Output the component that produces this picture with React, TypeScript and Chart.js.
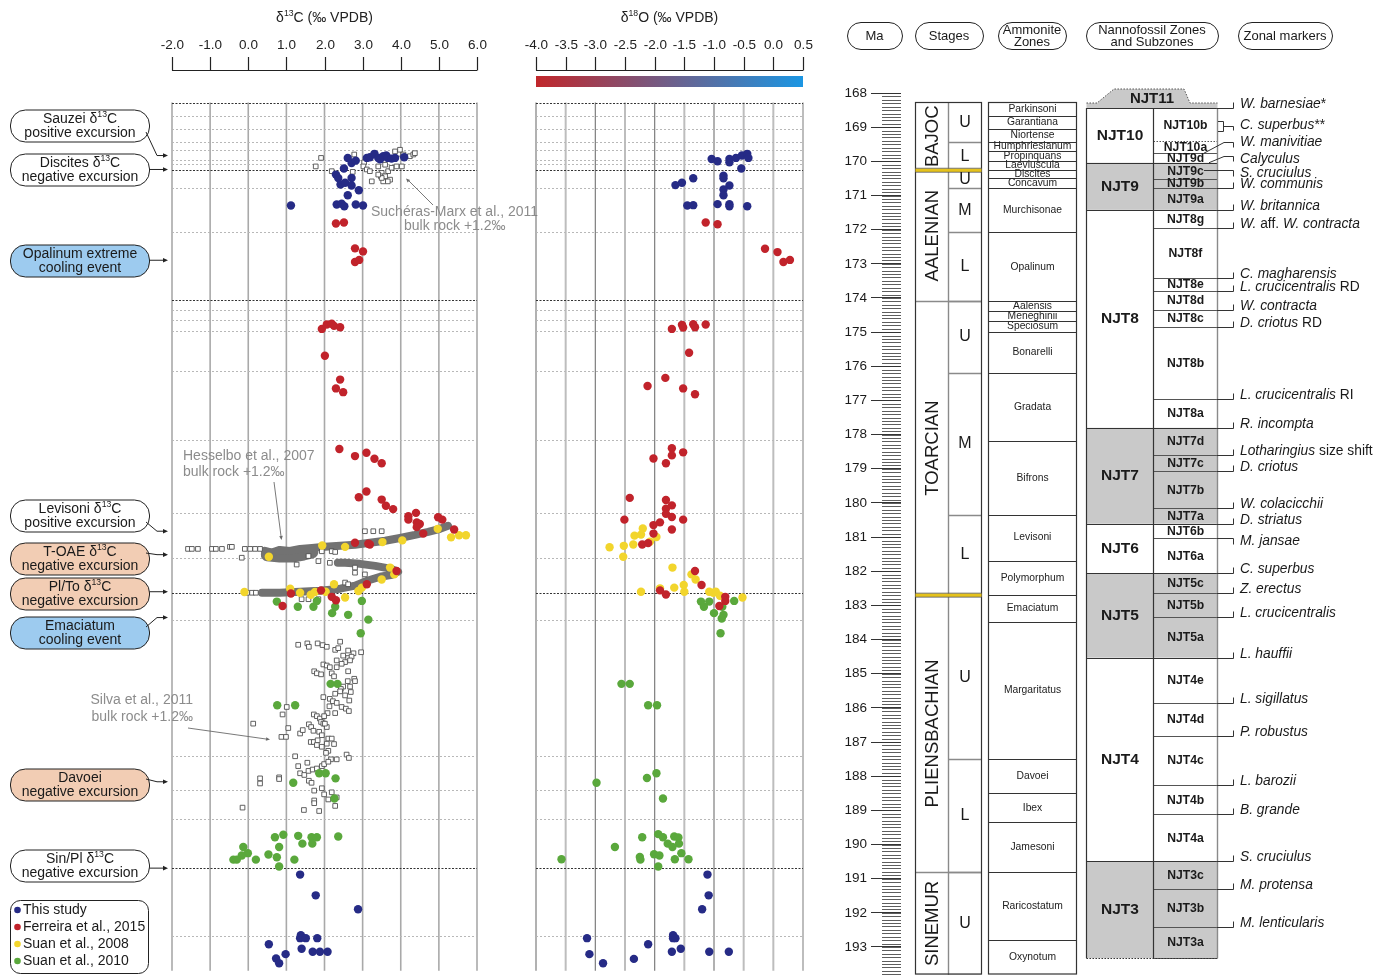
import React, { useEffect, useRef } from 'react';
import { Chart, registerables } from 'chart.js';

Chart.register(...registerables);

const FONT = '"Liberation Sans", Arial, Helvetica, sans-serif';

type Pt = [number, number];

// ---------- axes / domain ----------
const MA_PANEL_TOP = 168.28;
const MA_TABLE_TOP = 167.75;
const MA_BOTTOM = 193.82;
const D13C_TICKS = [-2, -1, 0, 1, 2, 3, 4, 5, 6];
const D18O_TICKS = [-4, -3.5, -3, -2.5, -2, -1.5, -1, -0.5, 0, 0.5];
const PANEL_MAJOR_LINES = [168.28, 170.26, 174.09, 182.7, 190.8];
const PANEL_MINOR_LINES = [168.67, 169.05, 169.43, 169.69, 169.98, 170.08, 170.79, 172.09, 174.38, 174.67, 174.99, 176.19, 178.21, 180.35, 181.69, 183.49, 187.5, 188.5, 189.35, 192.8];

// ---------- δ13C data ----------
const c13ThisStudy: Pt[] = [
  [2.61, 169.91], [2.71, 170.06], [2.82, 169.99], [3.11, 169.91], [3.19, 169.89], [3.31, 169.79], [3.41, 169.91], [3.46, 169.95], [3.54, 169.86], [3.62, 169.84], [3.66, 169.91], [3.76, 169.93], [3.85, 169.91], [4.09, 169.89],
  [2.51, 170.22], [2.3, 170.4], [2.36, 170.5], [2.71, 170.5], [2.42, 170.69], [2.54, 170.64], [2.71, 170.72], [2.9, 170.86], [2.61, 171.01],
  [1.12, 171.31], [2.32, 171.28], [2.45, 171.26], [2.52, 171.33], [2.82, 171.28], [3.01, 171.31],
  [1.36, 190.99], [1.77, 191.6], [2.88, 192.01], [1.38, 192.77], [1.36, 192.86], [1.51, 192.86], [1.81, 192.86], [0.54, 193.04], [1.4, 193.17], [1.69, 193.26], [1.88, 193.26], [2.08, 193.26], [0.98, 193.33], [0.73, 193.46], [0.81, 193.6],
];
const c13Ferreira: Pt[] = [
  [2.3, 171.84], [2.51, 171.81], [2.8, 172.57], [3.01, 172.66], [2.8, 172.97], [2.91, 172.91],
  [1.93, 174.94], [2.06, 174.81], [2.19, 174.79], [2.25, 174.85], [2.41, 174.89],
  [2.01, 175.73], [2.41, 176.43], [2.3, 176.69], [2.49, 176.8],
  [2.39, 178.47], [2.8, 178.68], [3.1, 178.58], [3.31, 178.76], [3.5, 178.89],
  [3.1, 179.72], [2.9, 179.89], [3.5, 179.96], [3.61, 180.14], [3.8, 180.24],
  [4.4, 180.35], [4.2, 180.45], [4.2, 180.55], [4.42, 180.63], [4.5, 180.68], [4.42, 180.77], [4.98, 180.48], [5.09, 180.55], [5.4, 180.84], [4.59, 180.96],
  [2.8, 181.23], [3.19, 181.28], [3.15, 181.26],
  [3.89, 182.06], [3.11, 182.45], [1.91, 182.63], [1.12, 182.72], [2.19, 182.82], [2.3, 182.92], [0.9, 183.09],
];
const c13Suan2008: Pt[] = [
  [4.97, 180.82], [5.32, 181.07], [5.53, 181.01], [5.71, 181.01], [4.04, 181.16], [3.52, 181.21], [2.54, 181.35], [1.94, 181.31], [0.54, 181.64],
  [3.72, 181.96], [3.83, 182.16], [3.5, 182.31], [2.25, 182.45], [2.89, 182.65], [2.98, 182.55], [1.1, 182.58], [1.36, 182.7], [1.64, 182.76], [1.75, 182.68], [2.03, 182.67], [2.54, 182.84], [-0.1, 182.68],
];
const c13Suan2010: Pt[] = [
  [0.75, 182.96], [1.3, 183.11], [1.71, 183.11], [1.8, 182.94], [2.28, 183.11], [2.2, 183.3], [2.62, 183.35], [2.98, 182.94], [3.15, 183.49], [2.95, 183.89],
  [2.16, 185.38], [2.34, 185.38], [0.76, 186.01], [1.23, 186.01],
  [1.86, 188.01], [2.03, 188.01], [2.29, 188.16], [1.18, 188.29], [2.26, 188.75],
  [0.7, 189.89], [0.92, 189.82], [1.31, 189.85], [1.66, 189.89], [1.8, 189.89], [2.36, 189.87], [1.42, 190.08], [1.68, 190.08],
  [-0.13, 190.18], [0.81, 190.18], [-0.01, 190.36], [-0.17, 190.43], [0.53, 190.4], [-0.39, 190.55], [-0.3, 190.55], [0.2, 190.55], [0.75, 190.48], [1.21, 190.55], [0.81, 190.75],
];
const c13SucherasMarx: Pt[] = [
  [1.91, 169.91], [1.77, 170.16], [2.19, 170.3], [2.78, 169.81], [2.74, 170.32], [3.04, 170.04], [3.02, 170.16], [3.11, 170.25], [3.24, 170.6], [3.19, 170.3], [3.41, 170.16], [3.5, 170.35], [3.59, 170.11], [3.67, 170.3], [3.72, 170.55], [3.66, 170.6], [3.54, 170.6], [3.48, 170.45], [3.59, 170.45], [3.76, 170.2], [3.89, 170.16], [4.03, 170.16], [3.94, 169.79], [3.98, 169.67], [3.85, 169.72], [4.24, 169.86], [4.33, 169.81], [4.37, 169.77], [4.07, 169.81], [3.83, 169.91], [3.5, 170.5], [3.41, 170.4],
];
const c13Silva: Pt[] = [
  [1.31, 184.23], [1.55, 184.19], [1.59, 184.29], [1.82, 184.19], [1.95, 184.24], [2.06, 184.29], [2.28, 184.38], [2.41, 184.14], [2.36, 184.33], [2.62, 184.4], [2.76, 184.48], [2.96, 184.45], [2.49, 184.55], [2.62, 184.62], [2.71, 184.58], [2.32, 184.69], [2.54, 184.74], [2.67, 184.69], [1.97, 184.81], [2.06, 184.84], [2.14, 184.89], [2.32, 184.89], [2.45, 184.79],
  [1.73, 185.01], [1.8, 185.07], [1.91, 185.1], [2.19, 185.07], [2.25, 185.16], [2.62, 185.01], [2.61, 185.3], [2.78, 185.23], [2.8, 185.3], [2.49, 185.46], [2.43, 185.53], [2.67, 185.46], [2.54, 185.72], [2.28, 185.67], [2.41, 185.6], [2.69, 185.62], [2.65, 185.87], [1.97, 185.77], [2.14, 185.82], [2.22, 185.89], [2.32, 185.94],
  [2.45, 186.06], [2.56, 186.11], [2.64, 186.18], [2.13, 186.04], [2.28, 186.24], [2.08, 186.24], [1.01, 186.06], [0.9, 186.28], [0.13, 186.55], [1.05, 186.68], [0.87, 186.94], [0.99, 186.94], [1.36, 186.84], [1.43, 186.74], [1.72, 186.28], [1.8, 186.33], [1.88, 186.4], [1.99, 186.33], [1.91, 186.5], [1.97, 186.55], [2.06, 186.65], [2.01, 186.55], [1.59, 186.57], [1.65, 186.65], [1.71, 186.76], [1.86, 186.79], [1.93, 186.89], [2.1, 186.99], [2.19, 186.99],
  [1.64, 187.09], [1.72, 187.09], [1.82, 187.04], [2.06, 187.14], [2.25, 187.15], [1.8, 187.18], [1.93, 187.23], [2.1, 187.35], [2.04, 187.41], [2.17, 187.6], [2.32, 187.6], [2.58, 187.46], [2.64, 187.56], [1.23, 187.51], [1.31, 187.8], [1.55, 187.7], [1.36, 188.01], [1.47, 188.06], [1.58, 187.94], [1.69, 187.9], [1.8, 187.87], [1.93, 187.8], [1.99, 187.74], [2.1, 187.67],
  [0.31, 188.16], [0.31, 188.31], [0.81, 188.13], [0.81, 188.18], [1.59, 188.23], [1.66, 188.29], [1.73, 188.52], [1.93, 188.45], [1.99, 188.63], [2.1, 188.78], [2.19, 188.57], [2.28, 188.97], [2.32, 188.72], [1.73, 188.81], [1.73, 188.89], [1.46, 189.09], [1.86, 189.12], [-0.15, 189.02],
];
const c13HesselboSparse: Pt[] = [
  [-1.58, 181.41], [-1.48, 181.41], [-1.32, 181.41], [-0.95, 181.41], [-0.85, 181.41], [-0.69, 181.41], [-0.48, 181.35], [-0.43, 181.35], [-0.09, 181.41], [0.05, 181.41], [0.18, 181.41], [0.31, 181.41], [-0.17, 181.67],
  [1.93, 181.48], [2.19, 181.48], [2.28, 181.5], [2.14, 181.82], [2.8, 181.96], [2.8, 182.11], [3.06, 182.16], [1.58, 181.62], [1.84, 181.77], [1.27, 181.87], [1.4, 182.89], [1.58, 182.89], [1.84, 182.89], [2.54, 182.4], [2.62, 182.45], [3.06, 180.89], [3.28, 180.89], [3.5, 180.89], [-0.03, 182.7], [0.1, 182.7], [0.2, 182.7],
];
const c13HesselboUpper: Pt[] = [
  [0.44, 181.47], [0.62, 181.52], [0.83, 181.44], [1.09, 181.47], [1.36, 181.41], [1.67, 181.38], [2.01, 181.35], [2.41, 181.32], [2.8, 181.29], [3.19, 181.23], [3.59, 181.17], [3.98, 181.09], [4.37, 181.0], [4.72, 180.91], [5.03, 180.82], [5.24, 180.73],
];
const c13HesselboBlob: Pt[] = [
  [0.5, 181.58], [0.83, 181.62], [1.15, 181.62], [1.45, 181.56], [1.67, 181.5],
];
const c13HesselboLower: Pt[] = [
  [0.36, 182.7], [0.83, 182.7], [1.36, 182.67], [1.88, 182.64], [2.41, 182.58], [2.8, 182.49], [3.14, 182.34], [3.46, 182.23], [3.77, 182.17], [3.93, 182.08], [3.72, 181.99], [3.33, 181.91], [2.93, 181.85], [2.54, 181.82], [2.35, 181.82],
];

// ---------- δ18O data ----------
const o18ThisStudy: Pt[] = [
  [-1.04, 169.94], [-0.94, 170.01], [-0.74, 169.94], [-0.74, 170.04], [-0.63, 169.91], [-0.53, 169.84], [-0.44, 169.79], [-0.42, 169.91], [-0.54, 170.22], [-0.84, 170.43], [-0.84, 170.51], [-1.35, 170.51], [-1.54, 170.64], [-1.65, 170.71], [-0.74, 170.72], [-0.84, 170.84], [-0.84, 171.01], [-1.45, 171.31], [-1.35, 171.3], [-0.94, 171.27], [-0.74, 171.27], [-0.74, 171.33], [-0.44, 171.33],
  [-1.11, 190.99], [-1.09, 191.6], [-1.2, 192.01], [-3.14, 192.86], [-1.69, 192.77], [-1.69, 192.86], [-1.65, 192.86], [-2.11, 193.04], [-1.56, 193.17], [-1.71, 193.26], [-1.08, 193.26], [-0.75, 193.26], [-3.1, 193.33], [-2.35, 193.47], [-2.87, 193.6],
];
const o18Ferreira: Pt[] = [
  [-1.14, 171.81], [-0.94, 171.86], [-0.14, 172.58], [0.07, 172.68], [0.17, 172.97], [0.28, 172.91],
  [-1.71, 174.94], [-1.54, 174.82], [-1.52, 174.9], [-1.35, 174.8], [-1.32, 174.89], [-1.14, 174.81],
  [-1.42, 175.64], [-1.82, 176.38], [-2.12, 176.62], [-1.52, 176.69], [-1.32, 176.86],
  [-1.71, 178.45], [-1.71, 178.66], [-1.52, 178.57], [-2.02, 178.75], [-1.81, 178.89],
  [-2.42, 179.91], [-1.81, 179.97], [-1.81, 180.23], [-1.71, 180.13], [-1.81, 180.38], [-1.71, 180.47], [-1.52, 180.55], [-2.51, 180.55], [-1.91, 180.63], [-2.02, 180.71], [-2.02, 180.96], [-1.71, 180.84], [-2.21, 181.28], [-2.11, 181.24],
  [-1.32, 182.06], [-1.21, 182.47], [-1.91, 182.63], [-1.81, 182.75], [-0.81, 182.82], [-0.81, 182.94], [-0.91, 183.09],
];
const o18Suan2008: Pt[] = [
  [-2.2, 180.81], [-2.34, 181.02], [-2.23, 180.99], [-1.97, 181.06], [-2.08, 181.2], [-2.36, 181.28], [-2.52, 181.32], [-2.76, 181.36], [-2.53, 181.64],
  [-1.7, 181.96], [-1.38, 182.16], [-1.31, 182.31], [-1.51, 182.47], [-1.67, 182.55], [-1.5, 182.67], [-2.23, 182.67], [-1.08, 182.67], [-1.01, 182.7], [-0.97, 182.67], [-0.9, 182.79], [-0.52, 182.84], [-1.91, 182.57],
];
const o18Suan2010: Pt[] = [
  [-1.22, 182.96], [-1.08, 182.96], [-1.17, 183.11], [-0.86, 183.11], [-0.66, 182.94], [-1.0, 183.3], [-0.84, 183.35], [-0.87, 183.46], [-0.89, 183.89],
  [-2.56, 185.38], [-2.42, 185.38], [-2.11, 186.01], [-1.96, 186.01],
  [-1.97, 188.01], [-2.13, 188.15], [-2.98, 188.29], [-1.86, 188.75],
  [-2.21, 189.89], [-1.94, 189.8], [-1.86, 189.89], [-1.67, 189.87], [-1.6, 189.9], [-1.78, 190.08], [-1.59, 190.08], [-1.7, 190.18], [-2.67, 190.18], [-1.55, 190.36], [-2.01, 190.39], [-1.92, 190.43], [-2.25, 190.47], [-2.24, 190.55], [-1.66, 190.54], [-1.43, 190.54], [-3.57, 190.54], [-1.94, 190.75],
];

// ---------- stratigraphy ----------
const STAGES: [string, number, number][] = [
  ['BAJOC', 168.27, 170.26], ['AALENIAN', 170.26, 174.09], ['TOARCIAN', 174.09, 182.7], ['PLIENSBACHIAN', 182.7, 190.8], ['SINEMUR', 190.8, 193.82],
];
const SUBSTAGES: [string, number, number][] = [
  ['U', 168.27, 169.44], ['L', 169.44, 170.26], ['U', 170.26, 170.79], ['M', 170.79, 172.08], ['L', 172.08, 174.09], ['U', 174.09, 176.19], ['M', 176.19, 180.34], ['L', 180.34, 182.7], ['U', 182.7, 187.5], ['L', 187.5, 190.8], ['U', 190.8, 193.82],
];
const GOLDEN_BOUNDARIES = [170.26, 182.7];
const AMMONITE_ZONES: [string, number, number][] = [
  ['Parkinsoni', 168.27, 168.67], ['Garantiana', 168.67, 169.05], ['Niortense', 169.05, 169.43], ['Humphriesianum', 169.43, 169.7], ['Propinquans', 169.7, 169.98], ['Laeviuscula', 169.98, 170.26], ['Discites', 170.26, 170.48], ['Concavum', 170.48, 170.79], ['Murchisonae', 170.79, 172.08], ['Opalinum', 172.08, 174.09],
  ['Aalensis', 174.09, 174.38], ['Meneghinii', 174.38, 174.67], ['Speciosum', 174.67, 174.99], ['Bonarelli', 174.99, 176.19], ['Gradata', 176.19, 178.19], ['Bifrons', 178.19, 180.34], ['Levisoni', 180.34, 181.69], ['Polymorphum', 181.69, 182.7],
  ['Emaciatum', 182.7, 183.49], ['Margaritatus', 183.49, 187.5], ['Davoei', 187.5, 188.5], ['Ibex', 188.5, 189.35], ['Jamesoni', 189.35, 190.8], ['Raricostatum', 190.8, 192.8], ['Oxynotum', 192.8, 193.82],
];
const NJT_ZONES: [string, number, number, boolean][] = [
  ['NJT10', 168.44, 170.04, false], ['NJT9', 170.04, 171.42, true], ['NJT8', 171.42, 177.8, false], ['NJT7', 177.8, 180.61, true], ['NJT6', 180.61, 182.06, false], ['NJT5', 182.06, 184.53, true], ['NJT4', 184.53, 190.49, false], ['NJT3', 190.49, 193.33, true],
];
const NJT_SUBZONES: [string, number, number][] = [
  ['NJT10b', 168.44, 169.41], ['NJT10a', 169.41, 169.76], ['NJT9d', 169.76, 170.04], ['NJT9c', 170.04, 170.52], ['NJT9b', 170.52, 170.77], ['NJT9a', 170.77, 171.42],
  ['NJT8g', 171.42, 171.95], ['NJT8f', 171.95, 173.41], ['NJT8e', 173.41, 173.8], ['NJT8d', 173.8, 174.35], ['NJT8c', 174.35, 174.84], ['NJT8b', 174.84, 176.97], ['NJT8a', 176.97, 177.8],
  ['NJT7d', 177.8, 178.61], ['NJT7c', 178.61, 179.07], ['NJT7b', 179.07, 180.16], ['NJT7a', 180.16, 180.61], ['NJT6b', 180.61, 181.04], ['NJT6a', 181.04, 182.06],
  ['NJT5c', 182.06, 182.63], ['NJT5b', 182.63, 183.34], ['NJT5a', 183.34, 184.53], ['NJT4e', 184.53, 185.85], ['NJT4d', 185.85, 186.81], ['NJT4c', 186.81, 188.27], ['NJT4b', 188.27, 189.11], ['NJT4a', 189.11, 190.49],
  ['NJT3c', 190.49, 191.31], ['NJT3b', 191.31, 192.41], ['NJT3a', 192.41, 193.33],
];
// label markup: segments separated by "|" alternate italic / upright (starting italic)
const MARKER_LABELS = [
  'W. barnesiae|*', 'C. superbus|**', 'W. manivitiae', 'Calyculus', 'S. cruciulus', 'W. communis', 'W. britannica', 'W.| aff. |W. contracta',
  'C. magharensis', 'L. crucicentralis| RD', 'W. contracta', 'D. criotus| RD', 'L. crucicentralis| RI', 'R. incompta', 'Lotharingius| size shift', 'D. criotus',
  'W. colacicchii', 'D. striatus', 'M. jansae', 'C. superbus', 'Z. erectus', 'L. crucicentralis', 'L. hauffii', 'L. sigillatus', 'P. robustus', 'L. barozii', 'B. grande', 'S. cruciulus', 'M. protensa', 'M. lenticularis',
];
const MARKER_AGES = [
  168.44, 168.97, 169.44, 169.83, 170.25, 170.77, 171.42, 171.95,
  173.41, 173.8, 174.35, 174.84, 176.97, 177.8, 178.61, 179.07,
  180.16, 180.61, 181.04, 182.06, 182.63, 183.34, 184.53, 185.85, 186.81, 188.27, 189.11, 190.49, 191.31, 192.41,
];

const HEADER_LABELS = [['Ma'], ['Stages'], ['Ammonite', 'Zones'], ['Nannofossil Zones', 'and Subzones'], ['Zonal markers']];
const CALLOUT_LABELS = [
  ['Sauzei δ^13^C', 'positive excursion'], ['Discites δ^13^C', 'negative excursion'], ['Opalinum extreme', 'cooling event'],
  ['Levisoni δ^13^C', 'positive excursion'], ['T-OAE δ^13^C', 'negative excursion'], ['Pl/To δ^13^C', 'negative excursion'],
  ['Emaciatum', 'cooling event'], ['Davoei', 'negative excursion'], ['Sin/Pl δ^13^C', 'negative excursion'],
];
const CALLOUT_TARGET_AGES = [169.84, 170.25, 172.92, 180.89, 181.58, 182.67, 183.43, 188.26, 190.8];
const LEGEND_LABELS = ['This study', 'Ferreira et al., 2015', 'Suan et al., 2008', 'Suan et al., 2010'];

// ---------- style / layout ----------
const NAVY = '#262b86';
const RED = '#c1232b';
const YELLOW = '#f2d52c';
const GREEN = '#5aa83c';
const WHITE_FILL = '#ffffff';
const BLUE_FILL = '#9dcbef';
const PEACH_FILL = '#f2cdb4';
const CALLOUT_FILLS = [WHITE_FILL, WHITE_FILL, BLUE_FILL, WHITE_FILL, PEACH_FILL, PEACH_FILL, BLUE_FILL, PEACH_FILL, WHITE_FILL];
const CALLOUT_CY = [126, 170, 261, 516, 559, 594, 633, 785, 866];
const HEADER_X: [number, number][] = [[847, 902], [915, 983], [998, 1066], [1086, 1218], [1238, 1332]];

const A_W = 560, B_LEFT = 520, B_W = 300, C_LEFT = 830, C_W = 559, H = 975;

type Part = { t: string; sup?: boolean; it?: boolean; bold?: boolean };
const parseSup = (s: string): Part[] => s.split('^').map((t, i) => ({ t, sup: i % 2 === 1 })).filter((p) => p.t);
const parseIt = (s: string): Part[] => s.split('|').map((t, i) => ({ t, it: i % 2 === 0 })).filter((p) => p.t);

function drawParts(ctx: CanvasRenderingContext2D, parts: Part[], x: number, y: number, size: number, align: 'left' | 'center' | 'right', color: string) {
  ctx.save();
  ctx.fillStyle = color;
  ctx.textBaseline = 'middle';
  ctx.textAlign = 'left';
  const setF = (p: Part) => {
    const s = p.sup ? size * 0.62 : size;
    ctx.font = `${p.it ? 'italic ' : ''}${p.bold ? 'bold ' : ''}${s}px ${FONT}`;
  };
  let w = 0;
  for (const p of parts) { setF(p); w += ctx.measureText(p.t).width; }
  let cx = align === 'left' ? x : align === 'center' ? x - w / 2 : x - w;
  for (const p of parts) {
    setF(p);
    ctx.fillText(p.t, cx, p.sup ? y - size * 0.3 : y);
    cx += ctx.measureText(p.t).width;
  }
  ctx.restore();
}
function seg(ctx: CanvasRenderingContext2D, x1: number, y1: number, x2: number, y2: number) {
  ctx.beginPath(); ctx.moveTo(x1, y1); ctx.lineTo(x2, y2); ctx.stroke();
}
function roundRect(ctx: CanvasRenderingContext2D, x: number, y: number, w: number, h: number, r: number) {
  ctx.beginPath();
  ctx.moveTo(x + r, y);
  ctx.arcTo(x + w, y, x + w, y + h, r);
  ctx.arcTo(x + w, y + h, x, y + h, r);
  ctx.arcTo(x, y + h, x, y, r);
  ctx.arcTo(x, y, x + w, y, r);
  ctx.closePath();
}
function arrowHead(ctx: CanvasRenderingContext2D, tx: number, ty: number, fx: number, fy: number, len = 5, half = 2.3) {
  const a = Math.atan2(ty - fy, tx - fx);
  ctx.beginPath();
  ctx.moveTo(tx, ty);
  ctx.lineTo(tx - len * Math.cos(a) + half * Math.sin(a), ty - len * Math.sin(a) - half * Math.cos(a));
  ctx.lineTo(tx - len * Math.cos(a) - half * Math.sin(a), ty - len * Math.sin(a) + half * Math.cos(a));
  ctx.closePath();
  ctx.fill();
}

const toXY = (pts: Pt[]) => pts.map(([x, y]) => ({ x, y }));
const circles = (label: string, pts: Pt[], color: string) => ({
  label, data: toXY(pts), showLine: false, pointRadius: 4.2, pointHoverRadius: 4.2,
  pointBackgroundColor: color, pointBorderWidth: 0, backgroundColor: color, borderColor: color,
});
const squares = (label: string, pts: Pt[]) => ({
  label, data: toXY(pts), showLine: false, pointStyle: 'rect', pointRadius: 3.3, pointHoverRadius: 3.3,
  pointBorderWidth: 0.9, pointBorderColor: '#505050', pointBackgroundColor: '#ffffff',
});
const band = (label: string, pts: Pt[], w: number) => ({
  label, data: toXY(pts), showLine: true, borderColor: '#727272', borderWidth: w, pointRadius: 0,
  tension: 0, borderJoinStyle: 'round', borderCapStyle: 'round',
});

function panelPlugin(ticks: number[], titleParts: Part[], gridStyle: (v: number) => [string, number], gradient: boolean, extra?: (chart: any) => void) {
  return {
    id: 'panelDecor',
    beforeDatasetsDraw(chart: any) {
      const ctx: CanvasRenderingContext2D = chart.ctx;
      const { top, bottom, left, right } = chart.chartArea;
      const xs = chart.scales.x, ys = chart.scales.y;
      ctx.save();
      ticks.forEach((v) => {
        const [c, w] = gridStyle(v);
        ctx.strokeStyle = c; ctx.lineWidth = w;
        const x = xs.getPixelForValue(v);
        seg(ctx, x, top, x, bottom);
      });
      ctx.lineWidth = 1;
      ctx.setLineDash([2, 2]);
      ctx.strokeStyle = '#b8b8b8';
      PANEL_MINOR_LINES.forEach((m) => { const y = Math.round(ys.getPixelForValue(m)) + 0.5; seg(ctx, left, y, right, y); });
      ctx.setLineDash([2, 1.5]);
      ctx.strokeStyle = '#333';
      ctx.lineWidth = 1.2;
      PANEL_MAJOR_LINES.forEach((m) => { const y = Math.round(ys.getPixelForValue(m)) + 0.5; seg(ctx, left, y, right, y); });
      ctx.restore();
    },
    afterDraw(chart: any) {
      const ctx: CanvasRenderingContext2D = chart.ctx;
      const xs = chart.scales.x;
      const { left, right } = chart.chartArea;
      ctx.save();
      ctx.strokeStyle = '#222'; ctx.lineWidth = 1.2;
      const x0 = xs.getPixelForValue(ticks[0]), x1 = xs.getPixelForValue(ticks[ticks.length - 1]);
      seg(ctx, x0, 70.5, x1, 70.5);
      ticks.forEach((v) => {
        const x = Math.round(xs.getPixelForValue(v)) + 0.5;
        seg(ctx, x, 57, x, 70.5);
        drawParts(ctx, [{ t: v.toFixed(1) }], x, 45, 13.5, 'center', '#222');
      });
      drawParts(ctx, titleParts, (left + right) / 2, 18, 14, 'center', '#222');
      if (gradient) {
        const g = ctx.createLinearGradient(x0, 0, x1, 0);
        g.addColorStop(0, '#c1272b');
        g.addColorStop(0.5, '#6f5f8a');
        g.addColorStop(1, '#1b96e3');
        ctx.fillStyle = g;
        ctx.fillRect(x0, 76, x1 - x0, 11);
      }
      ctx.restore();
      if (extra) extra(chart);
    },
  };
}

function drawLeftDecor(chart: any) {
  const ctx: CanvasRenderingContext2D = chart.ctx;
  const ys = chart.scales.y;
  ctx.save();
  // callouts
  CALLOUT_LABELS.forEach((lines, i) => {
    const cy = CALLOUT_CY[i];
    roundRect(ctx, 10.5, cy - 16, 139, 32, 15);
    ctx.fillStyle = CALLOUT_FILLS[i]; ctx.fill();
    ctx.strokeStyle = '#222'; ctx.lineWidth = 1; ctx.stroke();
    drawParts(ctx, parseSup(lines[0]), 80, cy - 7, 14, 'center', '#1a1a1a');
    drawParts(ctx, parseSup(lines[1]), 80, cy + 7, 14, 'center', '#1a1a1a');
    const ty = ys.getPixelForValue(CALLOUT_TARGET_AGES[i]);
    ctx.strokeStyle = '#222'; ctx.fillStyle = '#222'; ctx.lineWidth = 1;
    ctx.beginPath();
    if (Math.abs(ty - cy) < 3) {
      ctx.moveTo(149.5, ty); ctx.lineTo(164, ty);
    } else {
      const sy = cy + Math.sign(ty - cy) * 6;
      ctx.moveTo(146, sy); ctx.lineTo(157, ty); ctx.lineTo(164, ty);
    }
    ctx.stroke();
    arrowHead(ctx, 168, ty, 160, ty, 5, 2.3);
  });
  // grey annotations
  const grey = '#8c8c8c';
  drawParts(ctx, [{ t: 'Suchéras-Marx et al., 2011' }], 371, 212, 14, 'left', grey);
  drawParts(ctx, [{ t: 'bulk rock +1.2‰' }], 404, 226, 14, 'left', grey);
  drawParts(ctx, [{ t: 'Hesselbo et al., 2007' }], 183, 456, 14, 'left', grey);
  drawParts(ctx, [{ t: 'bulk rock +1.2‰' }], 183, 472, 14, 'left', grey);
  drawParts(ctx, [{ t: 'Silva et al., 2011' }], 193, 700, 14, 'right', grey);
  drawParts(ctx, [{ t: 'bulk rock +1.2‰' }], 193, 717, 14, 'right', grey);
  ctx.strokeStyle = '#6a6a6a'; ctx.fillStyle = '#6a6a6a'; ctx.lineWidth = 0.9;
  seg(ctx, 433, 205, 408, 180); arrowHead(ctx, 406, 178.5, 433, 205, 4, 1.8);
  seg(ctx, 274, 482, 281, 536); arrowHead(ctx, 281.5, 540, 274, 482, 4, 1.8);
  seg(ctx, 188, 728, 266, 739); arrowHead(ctx, 270, 739.5, 188, 728, 4, 1.8);
  // legend
  roundRect(ctx, 10.5, 900.5, 138, 73, 10);
  ctx.fillStyle = '#fff'; ctx.fill();
  ctx.strokeStyle = '#222'; ctx.lineWidth = 1; ctx.stroke();
  const colors = [NAVY, RED, YELLOW, GREEN];
  LEGEND_LABELS.forEach((l, i) => {
    const y = 910 + i * 17;
    ctx.fillStyle = colors[i];
    ctx.beginPath(); ctx.arc(17.5, y, 3.3, 0, Math.PI * 2); ctx.fill();
    drawParts(ctx, [{ t: l }], 23, y, 14, 'left', '#1a1a1a');
  });
  ctx.restore();
}

const tablePlugin = {
  id: 'stratTable',
  afterDraw(chart: any) {
    const ctx: CanvasRenderingContext2D = chart.ctx;
    const ys = chart.scales.y;
    const Y = (m: number) => ys.getPixelForValue(m);
    const X = (px: number) => px - C_LEFT;
    const bottom = chart.chartArea.bottom;
    ctx.save();
    // headers
    HEADER_LABELS.forEach((lines, i) => {
      const [x0, x1] = HEADER_X[i];
      roundRect(ctx, X(x0) + 0.5, 22.5, x1 - x0, 27, 13.5);
      ctx.strokeStyle = '#222'; ctx.lineWidth = 1; ctx.stroke();
      const cx = X((x0 + x1) / 2);
      if (lines.length === 1) drawParts(ctx, [{ t: lines[0] }], cx, 36, 13, 'center', '#1a1a1a');
      else {
        drawParts(ctx, [{ t: lines[0] }], cx, 30, 13, 'center', '#1a1a1a');
        drawParts(ctx, [{ t: lines[1] }], cx, 42.5, 13, 'center', '#1a1a1a');
      }
    });
    // Ma labels + minor ticks
    ys.ticks.forEach((t: any) => drawParts(ctx, [{ t: String(t.value) }], X(867), Y(t.value), 13.5, 'right', '#1a1a1a'));
    ctx.strokeStyle = '#333'; ctx.lineWidth = 0.8;
    for (let k = 1680; k <= Math.floor(MA_BOTTOM * 10); k++) {
      const y = Math.round(Y(k / 10)) + 0.5;
      seg(ctx, X(882), y, X(901), y);
    }
    // stages
    const sL = X(915.5), sM = X(948.5), sR = X(981.5);
    const tTop = Math.round(Y(STAGES[0][1])) + 0.5;
    ctx.strokeStyle = '#8a8a8a'; ctx.lineWidth = 1.4;
    seg(ctx, sM, tTop, sM, bottom);
    SUBSTAGES.forEach((s) => { const y = Math.round(Y(s[2])) + 0.5; seg(ctx, sM, y, sR, y); });
    STAGES.forEach((s) => { const y = Math.round(Y(s[2])) + 0.5; seg(ctx, sL, y, sR, y); });
    ctx.strokeStyle = '#333'; ctx.lineWidth = 1.2;
    ctx.strokeRect(sL, tTop, sR - sL, bottom - tTop - 1);
    GOLDEN_BOUNDARIES.forEach((m) => {
      const y = Y(m);
      ctx.fillStyle = '#e5c21c'; ctx.fillRect(sL, y - 1.8, sR - sL, 3.6);
      ctx.strokeStyle = '#555'; ctx.lineWidth = 0.8;
      seg(ctx, sL, y - 2, sR, y - 2); seg(ctx, sL, y + 2, sR, y + 2);
    });
    STAGES.forEach(([name, a, b]) => {
      ctx.save();
      ctx.translate((sL + sM) / 2 + 1, (Y(a) + Y(b)) / 2);
      ctx.rotate(-Math.PI / 2);
      drawParts(ctx, [{ t: name }], 0, 0, 18.5, 'center', '#1a1a1a');
      ctx.restore();
    });
    SUBSTAGES.forEach(([name, a, b]) => drawParts(ctx, [{ t: name }], (sM + sR) / 2, (Y(a) + Y(b)) / 2, 16, 'center', '#1a1a1a'));
    // ammonites
    const aL = X(988.5), aR = X(1076.5);
    const aTop = Math.round(Y(AMMONITE_ZONES[0][1])) + 0.5;
    ctx.strokeStyle = '#333'; ctx.lineWidth = 1;
    AMMONITE_ZONES.forEach((z) => { const y = Math.round(Y(z[2])) + 0.5; seg(ctx, aL, y, aR, y); });
    ctx.lineWidth = 1.2;
    ctx.strokeRect(aL, aTop, aR - aL, bottom - aTop - 1);
    AMMONITE_ZONES.forEach(([name, a, b]) => drawParts(ctx, [{ t: name }], (aL + aR) / 2, (Y(a) + Y(b)) / 2, 10.3, 'center', '#222'));
    // nannofossil zones
    const nL = X(1086.5), nM = X(1153.5), nR = X(1217.5);
    const nTop = Y(NJT_ZONES[0][1]);
    const nBot = Y(NJT_ZONES[NJT_ZONES.length - 1][2]);
    // NJT11
    ctx.fillStyle = '#c9c9c9';
    ctx.beginPath();
    ctx.moveTo(nL, 103); ctx.lineTo(X(1097), 103); ctx.lineTo(X(1114), 89); ctx.lineTo(X(1184), 89); ctx.lineTo(X(1190), 103); ctx.lineTo(nR, 103);
    ctx.lineTo(nR, nTop); ctx.lineTo(nL, nTop); ctx.closePath(); ctx.fill();
    ctx.strokeStyle = '#555'; ctx.lineWidth = 1; ctx.setLineDash([1.5, 1.5]);
    ctx.beginPath();
    ctx.moveTo(nL, 103); ctx.lineTo(X(1097), 103); ctx.lineTo(X(1114), 89); ctx.lineTo(X(1184), 89); ctx.lineTo(X(1190), 103); ctx.lineTo(nR, 103);
    ctx.stroke();
    ctx.setLineDash([]);
    drawParts(ctx, [{ t: 'NJT11', bold: true }], X(1152), 98.5, 15, 'center', '#1a1a1a');
    NJT_ZONES.forEach(([, a, b, g]) => {
      if (g) { ctx.fillStyle = '#c9c9c9'; ctx.fillRect(nL, Y(a), nR - nL, Y(b) - Y(a)); }
    });
    ctx.strokeStyle = '#555'; ctx.lineWidth = 1;
    NJT_SUBZONES.forEach(([name, a, b]) => {
      const y = Math.round(Y(b)) + 0.5;
      if (name === 'NJT10b') { ctx.setLineDash([1.5, 1.5]); seg(ctx, nM, y, nR, y); ctx.setLineDash([]); }
      else seg(ctx, nM, y, nR, y);
    });
    ctx.strokeStyle = '#333'; ctx.lineWidth = 1.2;
    NJT_ZONES.forEach(([, a, b], i) => {
      const ya = Math.round(Y(a)) + 0.5;
      seg(ctx, nL, ya, nR, ya);
      if (i === NJT_ZONES.length - 1) {
        const yb = Math.round(Y(b)) + 0.5;
        ctx.setLineDash([1.5, 1.5]); seg(ctx, nL, yb, nR, yb); ctx.setLineDash([]);
      }
    });
    seg(ctx, nL, nTop, nL, nBot); seg(ctx, nM, nTop, nM, nBot);
    ctx.strokeStyle = '#8a8a8a'; ctx.lineWidth = 1.4; seg(ctx, nR, nTop, nR, nBot);
    NJT_ZONES.forEach(([name, a, b]) => drawParts(ctx, [{ t: name, bold: true }], (nL + nM) / 2, (Y(a) + Y(b)) / 2, 15.5, 'center', '#1a1a1a'));
    NJT_SUBZONES.forEach(([name, a, b]) => drawParts(ctx, [{ t: name, bold: true }], (nM + nR) / 2, (Y(a) + Y(b)) / 2 + 0.5, 12.2, 'center', '#1a1a1a'));
    // zonal markers
    ctx.strokeStyle = '#333'; ctx.lineWidth = 1;
    const lx = X(1233.5), tx = X(1240);
    MARKER_LABELS.forEach((lab, i) => {
      const y = Math.round(Y(MARKER_AGES[i])) + 0.5;
      let ty = y - 4;
      if (i === 1) { // bracket
        const y1 = y - 5, y2 = y + 5, bx = X(1223.5);
        ctx.beginPath(); ctx.moveTo(X(1218), y1); ctx.lineTo(bx, y1); ctx.lineTo(bx, y2); ctx.lineTo(X(1218), y2); ctx.stroke();
        seg(ctx, bx, y, lx, y); seg(ctx, lx, y, lx, y + 4);
        ty = y - 1;
      } else if (i === 2 || i === 3) { // diagonal leaders
        const fy = Y(i === 2 ? 169.76 : 170.04);
        ctx.beginPath(); ctx.moveTo(X(i === 2 ? 1204 : 1209), fy); ctx.lineTo(X(1224), y); ctx.lineTo(lx, y); ctx.stroke();
        seg(ctx, lx, y, lx, y + 5);
        ty = i === 2 ? y : y + 2.5;
      } else if (i === 4 || i === 18) { // downward ticks
        seg(ctx, X(i === 4 ? 1204 : 1217), y, lx, y); seg(ctx, lx, y, lx, y + 6);
        ty = y + 2.5;
      } else {
        seg(ctx, X(1217), y, lx, y); seg(ctx, lx, y, lx, y - 6);
      }
      drawParts(ctx, parseIt(lab), tx, ty, 13.8, 'left', '#1a1a1a');
    });
    ctx.restore();
  },
};

export default function App() {
  const refA = useRef<HTMLCanvasElement>(null);
  const refB = useRef<HTMLCanvasElement>(null);
  const refC = useRef<HTMLCanvasElement>(null);

  useEffect(() => {
    const common = {
      animation: false as const,
      responsive: false,
      maintainAspectRatio: false,
      devicePixelRatio: 1,
      events: [] as any[],
      plugins: { legend: { display: false }, tooltip: { enabled: false } },
    };
    const chartA = new Chart(refA.current!, {
      type: 'scatter',
      data: {
        datasets: [
          circles('This study', c13ThisStudy, NAVY),
          circles('Ferreira et al., 2015', c13Ferreira, RED),
          circles('Suan et al., 2008', c13Suan2008, YELLOW),
          circles('Suan et al., 2010', c13Suan2010, GREEN),
          squares('Suchéras-Marx et al., 2011', c13SucherasMarx),
          squares('Silva et al., 2011', c13Silva),
          squares('Hesselbo et al., 2007', c13HesselboSparse),
          band('Hesselbo upper', c13HesselboUpper, 8),
          band('Hesselbo blob', c13HesselboBlob, 13),
          band('Hesselbo lower', c13HesselboLower, 8),
        ] as any,
      },
      options: {
        ...common,
        layout: { padding: { left: 172, right: A_W - 477, top: 102.5, bottom: 0 } },
        scales: {
          x: { type: 'linear', display: false, min: -2, max: 6 },
          y: { type: 'linear', display: false, min: MA_PANEL_TOP, max: MA_BOTTOM, reverse: true },
        },
      } as any,
      plugins: [panelPlugin(D13C_TICKS, parseSup('δ^13^C (‰ VPDB)'), () => ['#a9a9a9', 1.6], false, drawLeftDecor) as any],
    });
    const chartB = new Chart(refB.current!, {
      type: 'scatter',
      data: {
        datasets: [
          circles('This study', o18ThisStudy, NAVY),
          circles('Ferreira et al., 2015', o18Ferreira, RED),
          circles('Suan et al., 2008', o18Suan2008, YELLOW),
          circles('Suan et al., 2010', o18Suan2010, GREEN),
        ] as any,
      },
      options: {
        ...common,
        layout: { padding: { left: 536 - B_LEFT, right: B_W - (803 - B_LEFT), top: 102.5, bottom: 0 } },
        scales: {
          x: { type: 'linear', display: false, min: -4, max: 0.5 },
          y: { type: 'linear', display: false, min: MA_PANEL_TOP, max: MA_BOTTOM, reverse: true },
        },
      } as any,
      plugins: [panelPlugin(D18O_TICKS, parseSup('δ^18^O (‰ VPDB)'), (v) => (Number.isInteger(v) && v < 0 ? ['#7d7d7d', 1.2] : ['#bdbdbd', 2]), true) as any],
    });
    const chartC = new Chart(refC.current!, {
      type: 'scatter',
      data: { datasets: [] },
      options: {
        ...common,
        layout: { padding: { left: 0, right: 0, top: 84.5, bottom: 0 } },
        scales: {
          x: { type: 'linear', display: false, min: 0, max: 1 },
          y: {
            type: 'linear', display: true, position: 'left', min: MA_TABLE_TOP, max: MA_BOTTOM, reverse: true,
            ticks: { display: false, stepSize: 1, includeBounds: false },
            grid: { drawOnChartArea: false, drawTicks: true, tickLength: 30, color: '#333', lineWidth: 1 },
            border: { display: false },
            afterFit: (s: any) => { s.width = 71; },
          },
        },
      } as any,
      plugins: [tablePlugin as any],
    });
    return () => { chartA.destroy(); chartB.destroy(); chartC.destroy(); };
  }, []);

  const pos = (left: number, w: number): React.CSSProperties => ({ position: 'absolute', left, top: 0, width: w, height: H });
  return (
    <div style={{ position: 'absolute', left: 0, top: 0, width: 1389, height: H, background: '#fff', overflow: 'hidden' }}>
      <canvas ref={refA} width={A_W} height={H} style={pos(0, A_W)} />
      <canvas ref={refB} width={B_W} height={H} style={pos(B_LEFT, B_W)} />
      <canvas ref={refC} width={C_W} height={H} style={pos(C_LEFT, C_W)} />
    </div>
  );
}
